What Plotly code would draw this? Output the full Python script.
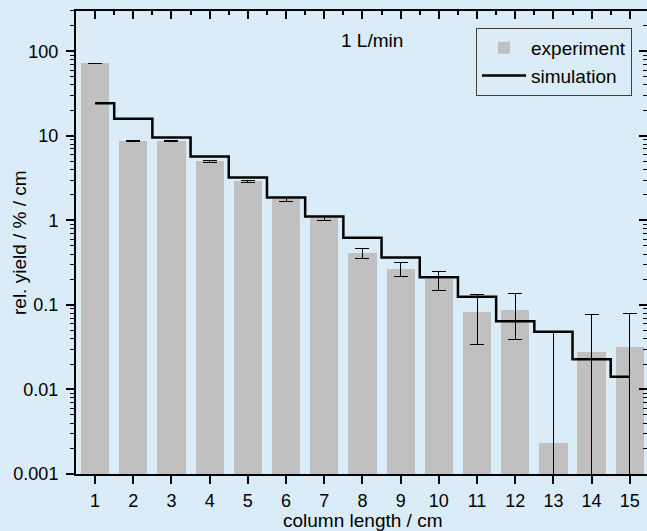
import plotly.graph_objects as go

# ---- data ----
column_length = list(range(1, 16))
experiment = [72, 8.7, 8.7, 5.0, 2.89, 1.77, 1.06, 0.407, 0.268, 0.20,
              0.083, 0.088, 0.0023, 0.0275, 0.0316]
experiment_err = [0.6, 0.15, 0.15, 0.15, 0.09, 0.08, 0.06, 0.054, 0.05, 0.05,
                  0.049, 0.049, 0.046, 0.049, 0.048]
simulation = [24.3, 15.9, 9.55, 5.7, 3.22, 1.87, 1.11, 0.624, 0.365, 0.212,
              0.125, 0.064, 0.0483, 0.0227, 0.0141]
y_tickvals = [0.001, 0.01, 0.1, 1, 10, 100]
y_ticktext = ["0.001", "0.01", "0.1", "1", "10", "100"]

BG = "#D9ECF7"
FONT = "Liberation Sans, Arial, sans-serif"

minor_log = [m * 10 ** e for e in range(-3, 3) for m in range(2, 10)]
xrange_ = [0.5, 15.45]
yrange_ = [-3, 2.477]

L, R, T, B = 76, 0, 11, 57
W, H = 647, 531
PW, PH = W - L - R, H - T - B

fig = go.Figure()
fig.add_trace(go.Bar(
    x=column_length, y=experiment, name="experiment",
    marker=dict(color="#C0C0C0", line=dict(width=0)),
    width=0.74,
    error_y=dict(type="data", array=experiment_err, color="black",
                 thickness=1, width=7),
))
fig.add_trace(go.Scatter(
    x=column_length, y=simulation, name="simulation", mode="lines",
    line=dict(color="black", width=2.5, shape="hvh"),
))
# empty trace to carry the mirrored top/right axes
fig.add_trace(go.Scatter(x=[], y=[], xaxis="x2", yaxis="y2",
                         showlegend=False, hoverinfo="skip"))

fig.update_layout(
    width=W, height=H,
    margin=dict(l=L, r=R, t=T, b=B, autoexpand=False),
    paper_bgcolor=BG, plot_bgcolor=BG,
    font=dict(family=FONT, size=18, color="black"),
    bargap=0,
    showlegend=True,
    legend=dict(
        x=(632 - L) / PW, xanchor="right", y=(H - B - 28) / PH, yanchor="top",
        bgcolor=BG, bordercolor="#404040", borderwidth=1,
        font=dict(size=19, family=FONT),
        tracegroupgap=0, itemwidth=44,
    ),
    xaxis=dict(
        range=xrange_, tickmode="array", tickvals=column_length,
        ticks="outside", ticklen=8, tickwidth=2, tickcolor="black",
        ticklabelstandoff=1,
        showline=True, linewidth=2, linecolor="black",
        showgrid=False, zeroline=False,
        tickfont=dict(size=18),
    ),
    yaxis=dict(
        type="log", range=yrange_,
        tickmode="array", tickvals=y_tickvals, ticktext=y_ticktext,
        ticks="outside", ticklen=8, tickwidth=2, tickcolor="black",
        ticklabelstandoff=4,
        minor=dict(tickmode="array", tickvals=minor_log, ticks="outside",
                   ticklen=4, tickwidth=1, tickcolor="black", showgrid=False),
        showline=True, linewidth=2, linecolor="black",
        showgrid=False, zeroline=False,
        tickfont=dict(size=18),
    ),
    xaxis2=dict(
        overlaying="x", side="top", anchor="y", range=xrange_,
        tickmode="array", tickvals=column_length,
        ticks="inside", ticklen=8, tickwidth=2, tickcolor="black",
        minor=dict(tickmode="array", tickvals=[v + 0.5 for v in column_length],
                   ticks="inside", ticklen=4, tickwidth=1.5, tickcolor="black"),
        showticklabels=False, showline=True, linewidth=2, linecolor="black",
        showgrid=False, zeroline=False,
    ),
    yaxis2=dict(
        overlaying="y", side="right", anchor="x", type="log", range=yrange_,
        tickmode="array", tickvals=y_tickvals,
        ticks="inside", ticklen=8, tickwidth=2, tickcolor="black",
        minor=dict(tickmode="array", tickvals=minor_log, ticks="inside",
                   ticklen=4, tickwidth=1, tickcolor="black"),
        showticklabels=False, showline=False,
        showgrid=False, zeroline=False,
    ),
    annotations=[
        dict(text="1 L/min", xref="paper", yref="paper",
             x=(372 - L) / PW, y=(H - B - 40.5) / PH,
             xanchor="center", yanchor="middle", showarrow=False,
             font=dict(size=19, family=FONT)),
        dict(text="rel. yield / % / cm", xref="paper", yref="paper",
             x=(19 - L) / PW, y=(H - B - 243) / PH, textangle=-90,
             xanchor="center", yanchor="middle", showarrow=False,
             font=dict(size=19, family=FONT)),
        dict(text="column length / cm", xref="paper", yref="paper",
             x=(362 - L) / PW, y=(H - B - 520) / PH,
             xanchor="center", yanchor="middle", showarrow=False,
             font=dict(size=19, family=FONT)),
    ],
)

fig.write_html("out.html",
               config={"displayModeBar": False},
               post_script="document.body.style.margin='0';"
                           "document.body.style.overflow='hidden';")
